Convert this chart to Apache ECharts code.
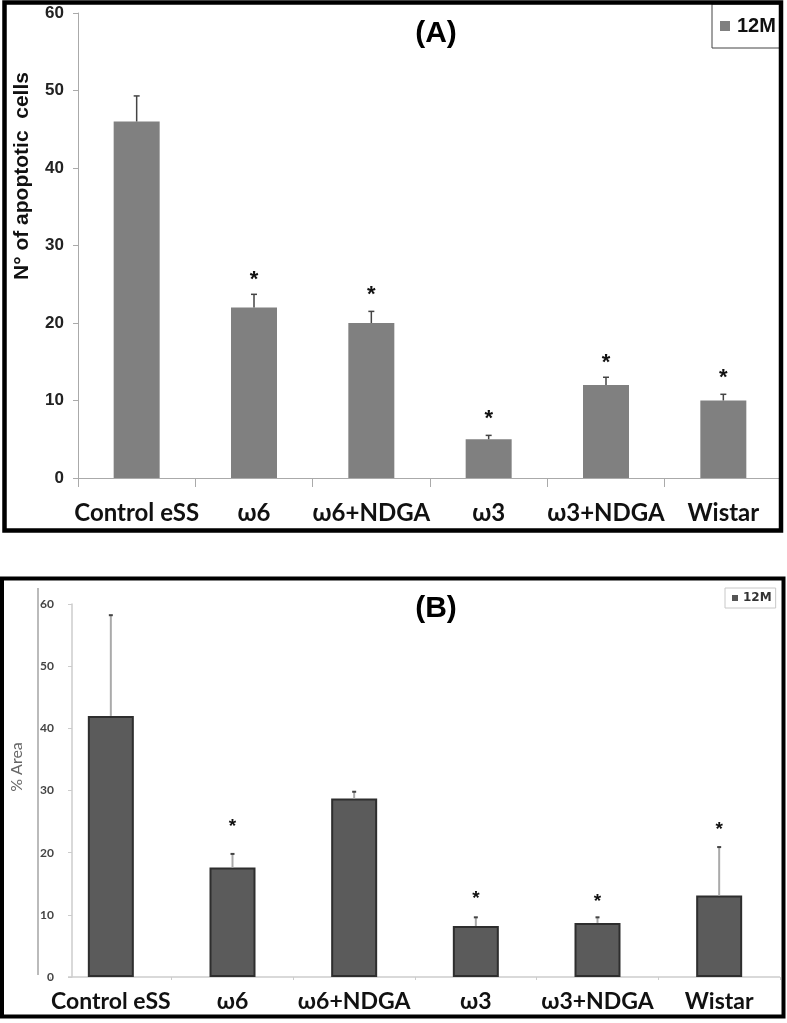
<!DOCTYPE html>
<html><head><meta charset="utf-8">
<script src="https://cdn.jsdelivr.net/npm/echarts@6/dist/echarts.min.js"></script>
<style>html,body{margin:0;padding:0;background:#fff}#c{width:787px;height:1023px}</style>
</head><body><div id="c"></div>
<script>
// ---- data ----
const categories = ['Control eSS', 'ω6', 'ω6+NDGA', 'ω3', 'ω3+NDGA', 'Wistar'];
const seriesName = '12M';
// Panel A: N° of apoptotic cells
const valuesA = [46, 22, 20, 5, 12, 10];
const errTopA = [49.3, 23.7, 21.5, 5.5, 13.0, 10.8];
const starA = [null, 26.2, 24.3, 8.3, 15.5, 13.5];
// Panel B: % Area
const valuesB = [42, 17.6, 28.7, 8.2, 8.7, 13.1];
const errTopB = [58.2, 19.8, 29.8, 9.6, 9.6, 20.9];
const starB = [null, 24.8, null, 13.3, 12.7, 24.4];
// axes
const yMin = 0, yMax = 60, yInterval = 10;

const LAB = 'Lato, "Open Sans", "DejaVu Sans", sans-serif';
const ARI = '"Liberation Sans", Arial, sans-serif';

function errData(vals, tops, stars) {
  return vals.map((v, i) => [i, v, tops[i], stars[i] == null ? '-' : stars[i]]);
}
function errRender(cfg) {
  return function (params, api) {
    const x = api.value(0), v = api.value(1), t = api.value(2), s = api.value(3);
    const p0 = api.coord([x, v]), p1 = api.coord([x, t]);
    const children = [
      { type: 'line', shape: { x1: p0[0], y1: p0[1], x2: p1[0], y2: p1[1] }, style: { stroke: cfg.stem, lineWidth: cfg.lw } },
      { type: 'line', shape: { x1: p1[0] - cfg.cap, y1: p1[1], x2: p1[0] + cfg.cap, y2: p1[1] }, style: { stroke: cfg.capColor, lineWidth: cfg.capLw } }
    ];
    if (!isNaN(s)) {
      const ps = api.coord([x, s]);
      children.push({ type: 'text', style: { text: '*', x: ps[0], y: ps[1] + cfg.shift, font: cfg.font, fill: '#111',
        align: 'center', verticalAlign: 'middle', textAlign: 'center', textVerticalAlign: 'middle' } });
    }
    return { type: 'group', children };
  };
}

const chart = echarts.init(document.getElementById('c'), null, { renderer: 'canvas' });
const option = {
  animation: false,
  backgroundColor: '#fff',
  grid: [
    { left: 78, right: 5, top: 13, bottom: 545 },
    { left: 50, right: 7, top: 604, bottom: 46 }
  ],
  legend: [
    { data: [{ name: seriesName, icon: 'rect', itemStyle: { color: '#808080' } }], left: 712, top: 4,
      padding: [12, 5, 12, 8], itemWidth: 10, itemHeight: 10, itemGap: 0, selectedMode: false,
      borderColor: '#444', borderWidth: 1, backgroundColor: '#fff',
      textStyle: { fontFamily: ARI, fontWeight: 'bold', fontSize: 20, color: '#111', padding: [0, 0, 0, 2] } },
    { data: [{ name: seriesName, icon: 'rect', itemStyle: { color: '#555', borderWidth: 0 } }], left: 725, top: 588,
      padding: [4, 4, 4, 7], itemWidth: 6, itemHeight: 6, itemGap: 0, selectedMode: false,
      borderColor: '#c8c8c8', borderWidth: 1, backgroundColor: '#fff',
      textStyle: { fontFamily: '"DejaVu Sans", sans-serif', fontWeight: 'bold', fontSize: 12, color: '#333' } }
  ],
  xAxis: [
    { type: 'category', gridIndex: 0, data: categories,
      axisLine: { lineStyle: { color: '#aaa', width: 1 } },
      axisTick: { show: true, length: 9, lineStyle: { color: '#aaa' } },
      axisLabel: { fontFamily: LAB, fontWeight: 'bold', fontSize: 24, color: '#111', margin: 35, verticalAlign: 'middle', interval: 0 } },
    { type: 'category', gridIndex: 1, data: categories,
      axisLine: { show: false },
      axisTick: { show: true, length: 3, lineStyle: { color: '#ccc' } },
      axisLabel: { fontFamily: LAB, fontWeight: 'bold', fontSize: 23, color: '#111', margin: 25, verticalAlign: 'middle', interval: 0 } }
  ],
  yAxis: [
    { type: 'value', gridIndex: 0, min: yMin, max: yMax, interval: yInterval,
      splitLine: { show: false },
      axisLine: { show: true, lineStyle: { color: '#aaa', width: 1 } },
      axisTick: { show: true, length: 5, lineStyle: { color: '#aaa' } },
      axisLabel: { fontFamily: ARI, fontWeight: 'bold', fontSize: 17, color: '#222', margin: 14 } },
    { type: 'value', gridIndex: 1, min: yMin, max: yMax, interval: yInterval, offset: -22,
      splitLine: { show: false },
      axisLine: { show: true, lineStyle: { color: '#ccc', width: 1.5 } },
      axisTick: { show: true, length: 4, lineStyle: { color: '#ccc' } },
      axisLabel: { fontFamily: LAB, fontWeight: 'bold', fontSize: 12, color: '#444', margin: 18 } }
  ],
  series: [
    { name: seriesName, type: 'bar', xAxisIndex: 0, yAxisIndex: 0, data: valuesA, barWidth: 46,
      itemStyle: { color: '#808080' } },
    { name: seriesName, type: 'bar', xAxisIndex: 1, yAxisIndex: 1, data: valuesB, barWidth: 46,
      itemStyle: { color: '#5b5b5b', borderColor: '#2e2e2e', borderWidth: 2 } },
    { type: 'custom', xAxisIndex: 0, yAxisIndex: 0, data: errData(valuesA, errTopA, starA), z: 5,
      encode: { x: 0, y: 2 },
      renderItem: errRender({ stem: '#444', lw: 1.5, cap: 3, capColor: '#444', capLw: 1.5, font: 'bold 22px ' + ARI, shift: 5 }) },
    { type: 'custom', xAxisIndex: 1, yAxisIndex: 1, data: errData(valuesB, errTopB, starB), z: 5,
      encode: { x: 0, y: 2 },
      renderItem: errRender({ stem: '#aaa', lw: 2, cap: 2, capColor: '#444', capLw: 2, font: 'bold 19px ' + ARI, shift: 4 }) }
  ]
};
chart.setOption(option);

const y0B = chart.convertToPixel({ yAxisIndex: 1 }, 0);
chart.setOption({
  graphic: [
    { type: 'rect', shape: { x: 4.5, y: 2.5, width: 776.5, height: 528 }, style: { fill: 'none', stroke: '#000', lineWidth: 4.5 }, z: 100 },
    { type: 'rect', shape: { x: 2, y: 578.5, width: 781.5, height: 438 }, style: { fill: 'none', stroke: '#000', lineWidth: 4 }, z: 100 },
    { type: 'line', shape: { x1: 68, y1: y0B, x2: 780, y2: y0B }, style: { stroke: '#ccc', lineWidth: 1.5 }, z: 1 },
    { type: 'line', shape: { x1: 38, y1: 588, x2: 38, y2: 975 }, style: { stroke: '#bbb', lineWidth: 2 }, z: 1 },
    { type: 'text', x: 436, y: 34, style: { text: '(A)', font: 'bold 30px ' + ARI, fill: '#000', textAlign: 'center', textVerticalAlign: 'middle', align: 'center', verticalAlign: 'middle' }, z: 50 },
    { type: 'text', x: 436, y: 609, style: { text: '(B)', font: 'bold 30px ' + ARI, fill: '#000', textAlign: 'center', textVerticalAlign: 'middle', align: 'center', verticalAlign: 'middle' }, z: 50 },
    { type: 'text', x: 22, y: 176, rotation: Math.PI / 2, style: { text: 'N° of apoptotic  cells', font: 'bold 21px ' + ARI, fill: '#111', textAlign: 'center', textVerticalAlign: 'middle', align: 'center', verticalAlign: 'middle' }, z: 50 },
    { type: 'text', x: 17, y: 767, rotation: Math.PI / 2, style: { text: '% Area', font: '16px ' + LAB, fill: '#666', textAlign: 'center', textVerticalAlign: 'middle', align: 'center', verticalAlign: 'middle' }, z: 50 }
  ]
});
</script>
</body></html>
